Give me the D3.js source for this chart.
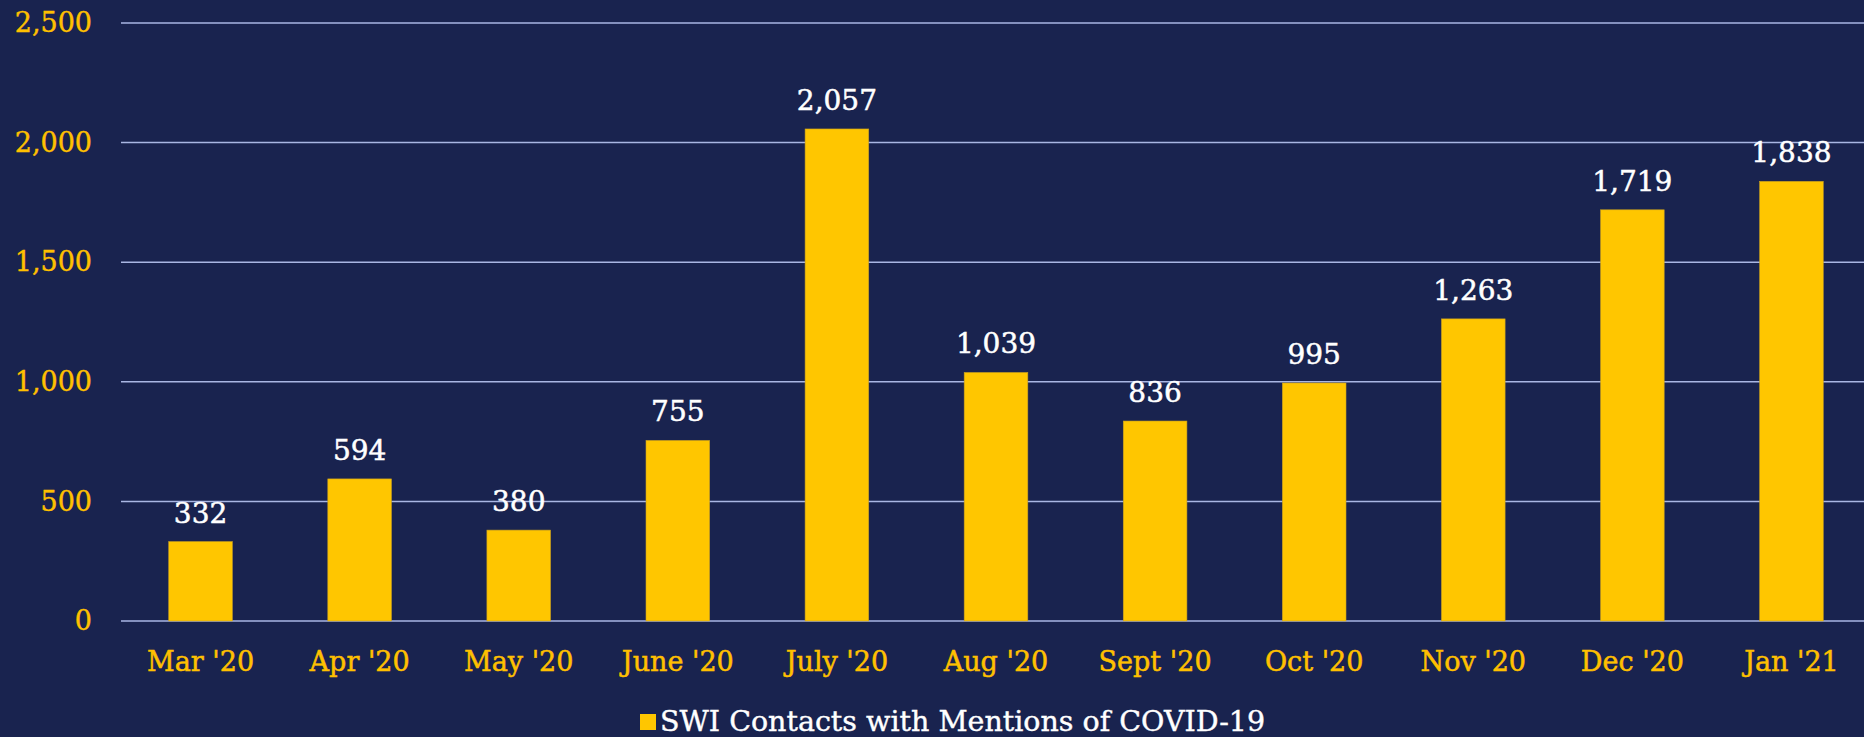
<!DOCTYPE html>
<html>
<head>
<meta charset="utf-8">
<script src="https://cdn.jsdelivr.net/npm/d3@7"></script>
<style>
  html, body { margin: 0; padding: 0; background: #19234f; overflow: hidden; }
  text { font-family: "DejaVu Serif", serif; }
</style>
</head>
<body>
<div id="draw-area"></div>
<script>
// data
const months = ["Mar '20", "Apr '20", "May '20", "June '20", "July '20", "Aug '20", "Sept '20", "Oct '20", "Nov '20", "Dec '20", "Jan '21"];
const contacts = [332, 594, 380, 755, 2057, 1039, 836, 995, 1263, 1719, 1838];
const yTicks = [0, 500, 1000, 1500, 2000, 2500];
const seriesName = 'SWI Contacts with Mentions of COVID-19';

(function () {
    let width = 1864, height = 737;
    let margin = { top: 23, right: -7, bottom: 116, left: 121 };
    let innerW = width - margin.left - margin.right,
        innerH = height - margin.top - margin.bottom;

    let svg = d3.select('#draw-area').append('svg')
        .attr('width', width)
        .attr('height', height)
        .style('display', 'block');

    svg.append('rect').attr('width', width).attr('height', height).attr('fill', '#19234f');

    let g = svg.append('g').attr('transform', `translate(${margin.left},${margin.top})`);

    let x = d3.scaleBand().range([0, innerW]).domain(months).paddingInner(0.6).paddingOuter(0.3);
    let y = d3.scaleLinear().range([innerH, 0]).domain([0, 2500]);
    let fmt = d3.format(',');

    // gridlines
    g.selectAll('line.grid')
        .data(yTicks)
        .enter()
        .append('line')
        .attr('class', 'grid')
        .attr('x1', 0)
        .attr('x2', innerW)
        .attr('y1', d => y(d))
        .attr('y2', d => y(d))
        .attr('stroke', '#a9b6e3')
        .attr('stroke-width', 1.5);

    // bars
    g.selectAll('rect.bar')
        .data(contacts)
        .enter()
        .append('rect')
        .attr('class', 'bar')
        .attr('x', (d, i) => x(months[i]))
        .attr('y', d => y(d))
        .attr('width', x.bandwidth())
        .attr('height', d => y(0) - y(d))
        .attr('fill', '#ffc600')
        .attr('stroke', '#c9a020')
        .attr('stroke-width', 0.6);

    // value labels
    g.selectAll('text.val')
        .data(contacts)
        .enter()
        .append('text')
        .attr('class', 'val')
        .attr('x', (d, i) => x(months[i]) + x.bandwidth() / 2)
        .attr('y', d => y(d) - 19)
        .attr('text-anchor', 'middle')
        .attr('font-size', 28)
        .attr('fill', '#ffffff')
        .attr('stroke', '#ffffff')
        .attr('stroke-width', 0.5)
        .text(d => fmt(d));

    // Y axis
    let yAxis = g.append('g')
        .call(d3.axisLeft(y).tickValues(yTicks).tickFormat(fmt).tickSize(0).tickPadding(29));
    yAxis.select('.domain').remove();
    yAxis.selectAll('text').attr('font-size', 27).attr('fill', '#ffc000')
        .attr('stroke', '#ffc000').attr('stroke-width', 0.4)
        .attr('font-family', '"DejaVu Serif", serif');

    // X axis
    let xAxis = g.append('g')
        .attr('transform', `translate(0,${innerH})`)
        .call(d3.axisBottom(x).tickSize(0).tickPadding(31));
    xAxis.select('.domain').remove();
    xAxis.selectAll('text').attr('font-size', 27).attr('fill', '#ffc000')
        .attr('stroke', '#ffc000').attr('stroke-width', 0.5)
        .attr('font-family', '"DejaVu Serif", serif');

    // legend
    let legend = svg.append('g').attr('transform', 'translate(640,714)');
    legend.append('rect').attr('width', 16).attr('height', 16).attr('fill', '#ffc600');
    legend.append('text')
        .attr('x', 20)
        .attr('y', 17)
        .attr('font-size', 28.5)
        .attr('fill', '#ffffff')
        .attr('stroke', '#ffffff')
        .attr('stroke-width', 0.4)
        .text(seriesName);
})();
</script>
</body>
</html>
